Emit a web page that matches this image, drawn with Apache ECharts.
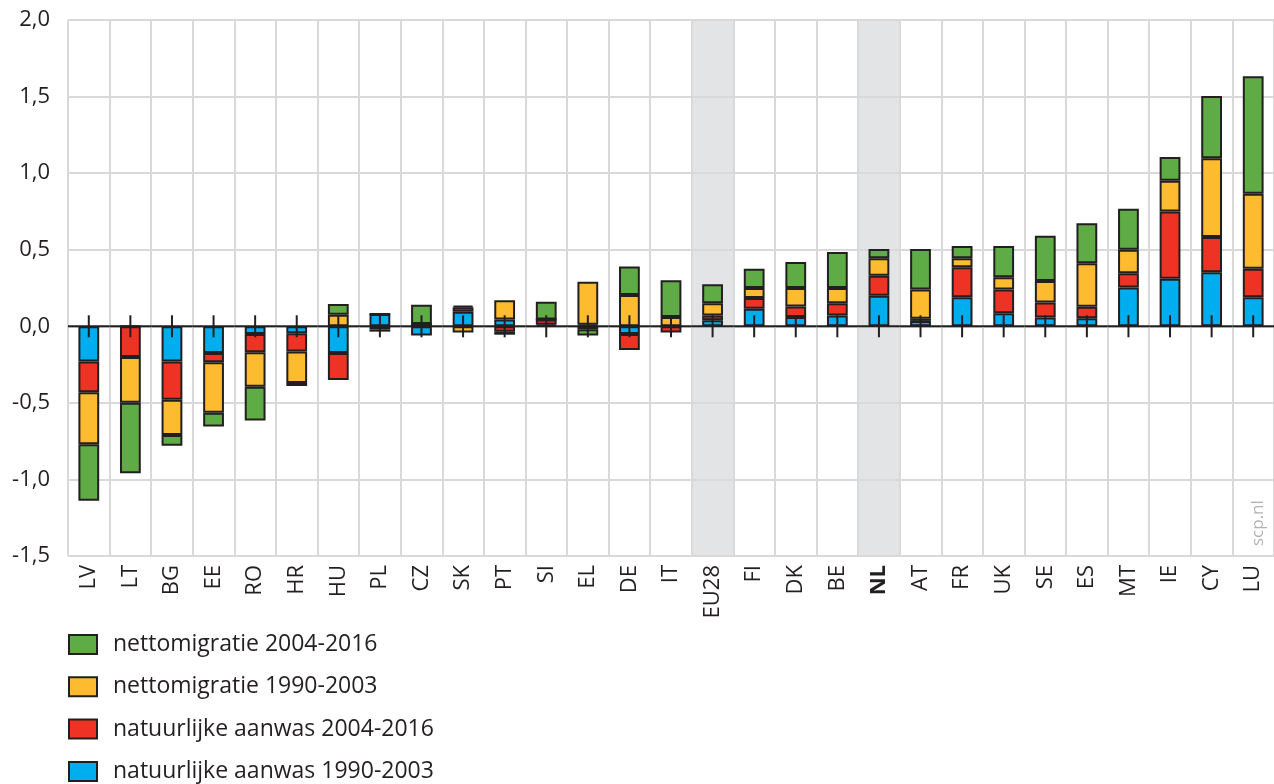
<!DOCTYPE html>
<html>
<head>
<meta charset="utf-8">
<title>Bevolkingsgroei naar component</title>
<script src="https://cdn.jsdelivr.net/npm/echarts@6/dist/echarts.min.js"></script>
<style>
  html, body { margin: 0; padding: 0; background: #fff; }
  #chart { width: 1274px; height: 784px; }
</style>
</head>
<body>
<div id="chart"></div>
<script>
// landen, van laagste naar hoogste groei
const countries = ['LV', 'LT', 'BG', 'EE', 'RO', 'HR', 'HU', 'PL', 'CZ', 'SK', 'PT', 'SI', 'EL', 'DE', 'IT',
  'EU28', 'FI', 'DK', 'BE', 'NL', 'AT', 'FR', 'UK', 'SE', 'ES', 'MT', 'IE', 'CY', 'LU']
// grijs gemarkeerde kolommen
const highlighted = ['EU28', 'NL']

// natuurlijke aanwas 1990-2003
const natAanwas9003 = [-0.23, 0, -0.23, -0.175, -0.05, -0.045, -0.175, 0.08, -0.06, 0.095, 0.045, 0.01, 0.01, -0.05, 0,
  0.04, 0.115, 0.06, 0.07, 0.2, 0.035, 0.19, 0.085, 0.057, 0.053, 0.253, 0.31, 0.353, 0.19]
// natuurlijke aanwas 2004-2016
const natAanwas0416 = [-0.2, -0.2, -0.25, -0.06, -0.12, -0.12, -0.175, 0, 0.015, 0.03, -0.035, 0.035, -0.02, -0.105, -0.04,
  0.03, 0.07, 0.07, 0.08, 0.13, 0.015, 0.195, 0.155, 0.098, 0.074, 0.093, 0.44, 0.23, 0.185]
// nettomigratie 1990-2003
const migratie9003 = [-0.34, -0.3, -0.23, -0.33, -0.225, -0.205, 0.075, -0.02, 0, -0.04, 0.125, 0, 0.28, 0.205, 0.06,
  0.08, 0.065, 0.12, 0.1, 0.115, 0.19, 0.06, 0.08, 0.14, 0.285, 0.154, 0.2, 0.515, 0.49]
// nettomigratie 2004-2016
const migratie0416 = [-0.37, -0.46, -0.07, -0.09, -0.22, -0.02, 0.07, -0.015, 0.125, 0.01, -0.02, 0.115, -0.04, 0.185, 0.24,
  0.125, 0.125, 0.17, 0.235, 0.06, 0.265, 0.08, 0.205, 0.297, 0.26, 0.267, 0.155, 0.405, 0.767]

const yTicks = { min: -1.5, max: 2, interval: 0.5 }

const FONT = '"Open Sans", "Noto Sans", sans-serif'
const INK = '#231f20'

const barSeries = (name, data, color) => ({
  name,
  type: 'bar',
  stack: 'totaal',
  data,
  barWidth: '50%',
  z: 3,
  itemStyle: { color, borderColor: INK, borderWidth: 2 }
})

const chart = echarts.init(document.getElementById('chart'))
chart.setOption({
  animation: false,
  grid: { left: 68, right: 0, top: 20, bottom: 228 },
  legend: {
    orient: 'vertical',
    left: 68,
    top: 633,
    height: 200,
    padding: 0,
    icon: 'rect',
    itemWidth: 28,
    itemHeight: 19,
    itemGap: 19.3,
    selectedMode: false,
    data: ['nettomigratie 2004-2016', 'nettomigratie 1990-2003', 'natuurlijke aanwas 2004-2016', 'natuurlijke aanwas 1990-2003'],
    textStyle: { fontFamily: FONT, fontSize: 23, color: INK, padding: [0, 0, 0, 11] }
  },
  xAxis: {
    type: 'category',
    data: countries,
    axisLine: { show: false },
    axisTick: { show: false },
    splitLine: { show: true, lineStyle: { color: '#d9d9d9', width: 2 } },
    axisLabel: {
      rotate: 90,
      margin: 9,
      fontFamily: FONT,
      fontSize: 22,
      color: INK,
      formatter: v => v === 'NL' ? '{b|NL}' : v,
      rich: { b: { fontFamily: FONT, fontSize: 22, fontWeight: 'bold', color: INK } }
    }
  },
  yAxis: {
    type: 'value',
    min: yTicks.min,
    max: yTicks.max,
    interval: yTicks.interval,
    axisLine: { show: false },
    axisTick: { show: false },
    splitLine: { lineStyle: { color: '#d9d9d9', width: 2 } },
    axisLabel: {
      margin: 18,
      fontFamily: FONT,
      fontSize: 22,
      color: INK,
      formatter: v => v.toFixed(1).replace('.', ',')
    }
  },
  graphic: [{
    type: 'text',
    x: 1258,
    y: 546,
    rotation: Math.PI / 2,
    style: { text: 'scp.nl', fontFamily: FONT, fontSize: 17, fill: '#b3b3b3', textAlign: 'left', textVerticalAlign: 'middle' }
  }],
  series: [
    {
      // grijze achtergrond voor EU28 en NL
      type: 'custom',
      silent: true,
      z: -1,
      data: highlighted.map(c => [countries.indexOf(c)]),
      renderItem: (params, api) => {
        const c = api.coord([api.value(0), 0])
        const w = api.size([1, 0])[0]
        const cs = params.coordSys
        return {
          type: 'rect',
          shape: { x: c[0] - w / 2, y: cs.y, width: w, height: cs.height },
          style: { fill: '#e3e4e6' }
        }
      }
    },
    barSeries('natuurlijke aanwas 1990-2003', natAanwas9003, '#00aeef'),
    barSeries('natuurlijke aanwas 2004-2016', natAanwas0416, '#ee3224'),
    barSeries('nettomigratie 1990-2003', migratie9003, '#fdbb30'),
    barSeries('nettomigratie 2004-2016', migratie0416, '#5fab45'),
    {
      // nullijn met streepjes per land
      type: 'custom',
      silent: true,
      z: 10,
      data: countries.map((c, i) => [i, 0]),
      renderItem: (params, api) => {
        const p = api.coord([api.value(0), api.value(1)])
        const w = api.size([1, 0])[0]
        const stroke = { stroke: INK, lineWidth: 2 }
        return {
          type: 'group',
          children: [
            { type: 'line', shape: { x1: p[0] - w / 2, y1: p[1], x2: p[0] + w / 2, y2: p[1] }, style: stroke },
            { type: 'line', shape: { x1: p[0], y1: p[1] - 11, x2: p[0], y2: p[1] + 11 }, style: stroke }
          ]
        }
      }
    }
  ]
})
</script>
</body>
</html>
